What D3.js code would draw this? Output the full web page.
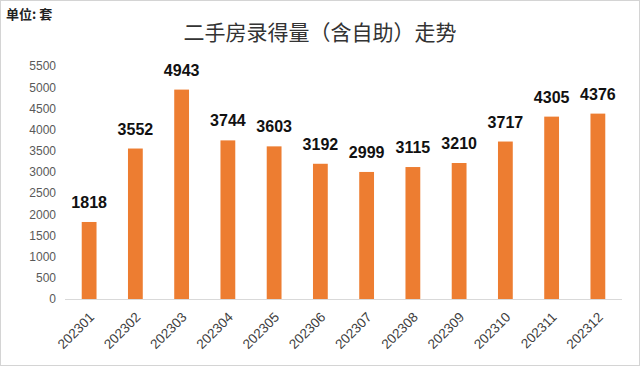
<!DOCTYPE html>
<html><head><meta charset="utf-8">
<script src="https://cdn.jsdelivr.net/npm/d3@7"></script>
<style>html,body{margin:0;padding:0;background:#fff;}svg{display:block;}</style>
</head><body>
<svg id="c" width="640" height="366"></svg>
<script>
const categories = ["202301","202302","202303","202304","202305","202306","202307","202308","202309","202310","202311","202312"];
const values = [1818,3552,4943,3744,3603,3192,2999,3115,3210,3717,4305,4376];
const yTicks = [0,500,1000,1500,2000,2500,3000,3500,4000,4500,5000,5500];
const titleText = "二手房录得量（含自助）走势";
const unitText = "单位: 套";

const svg = d3.select("#c");
const W = 640, H = 366;
svg.append("rect").attr("x",0.5).attr("y",0.5).attr("width",W-1).attr("height",H-1)
  .attr("fill","#fff").attr("stroke","#d4d4d4");

const x = d3.scaleBand().domain(categories).range([66, 621]).paddingInner(0.68).paddingOuter(0.34);
const y = d3.scaleLinear().domain([0,5500]).range([299, 66]);

svg.append("text").attr("x",6).attr("y",19).attr("font-family","'Noto Sans CJK SC',sans-serif")
  .attr("font-weight","bold").attr("font-size",13).attr("fill","#222").text(unitText);
svg.append("text").attr("x",320).attr("y",40).attr("text-anchor","middle")
  .attr("font-family","'Noto Sans CJK SC',sans-serif").attr("font-size",21).attr("fill","#333")
  .text(titleText);

const yAxis = svg.append("g").attr("transform","translate(64,0)")
  .call(d3.axisLeft(y).tickValues(yTicks).tickFormat(d3.format("d")).tickSize(0).tickPadding(8));
yAxis.select(".domain").remove();
yAxis.selectAll("text").attr("font-family","'Liberation Sans',Arial,sans-serif").attr("font-size",12).attr("fill","#595959");

svg.append("g").selectAll("rect").data(values).join("rect")
  .attr("x",(d,i)=>x(categories[i])).attr("width",x.bandwidth())
  .attr("y",d=>y(d)).attr("height",d=>y(0)-y(d)).attr("fill","#ED7D31");

const xAxis = svg.append("g").attr("transform","translate(0,299)")
  .call(d3.axisBottom(x).tickSize(0).tickPadding(0));
xAxis.select(".domain").attr("stroke","#d9d9d9").attr("d","M65,0.5H622");
xAxis.selectAll("text").attr("font-family","'Liberation Sans',Arial,sans-serif").attr("font-size",13.5)
  .attr("fill","#404040").attr("text-anchor","end").attr("dy",0)
  .attr("transform","translate(6,19) rotate(-45)");

svg.append("g").selectAll("text").data(values).join("text")
  .attr("x",(d,i)=>x(categories[i])+x.bandwidth()/2).attr("y",d=>y(d)-14)
  .attr("text-anchor","middle").attr("font-family","'Liberation Sans',Arial,sans-serif")
  .attr("font-weight","bold").attr("font-size",16).attr("fill","#111").text(d=>d);
</script>
</body></html>
